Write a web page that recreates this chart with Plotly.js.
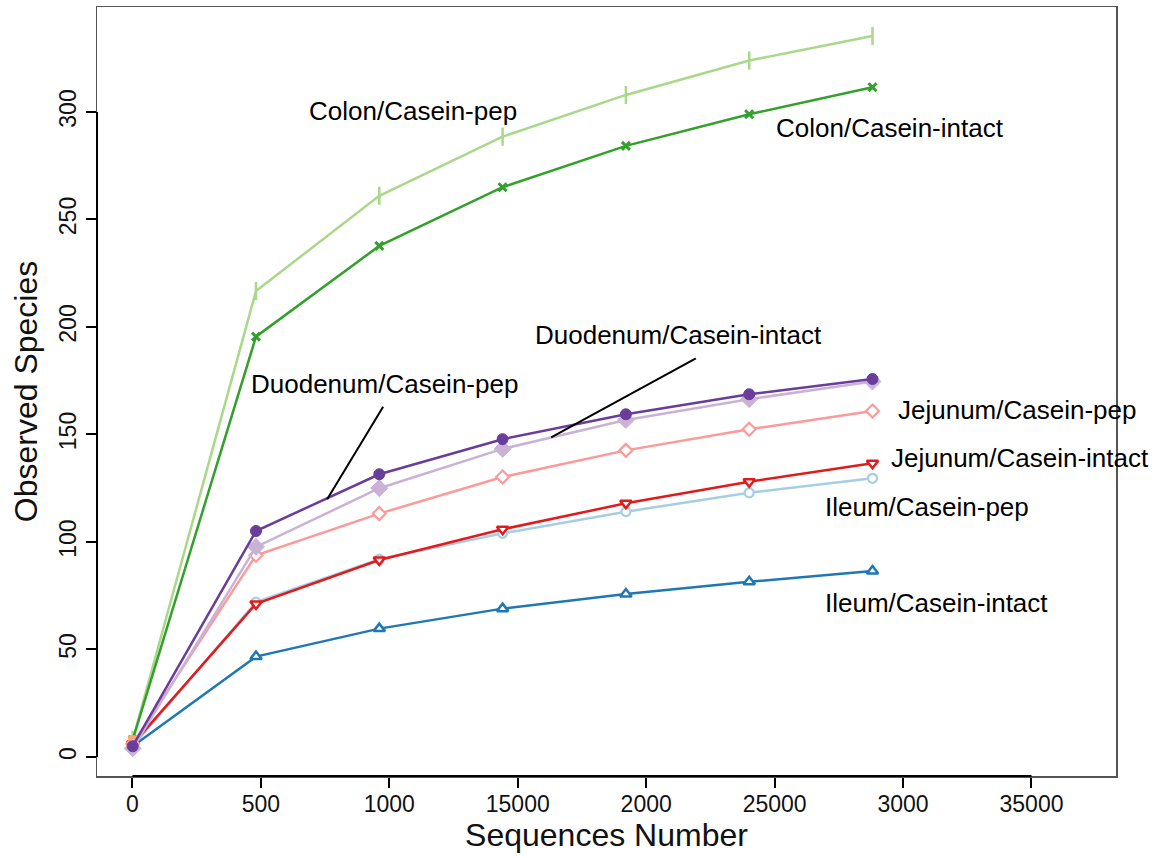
<!DOCTYPE html>
<html>
<head>
<meta charset="utf-8">
<script src="https://cdn.plot.ly/plotly-3.0.1.min.js"></script>
<style>html,body{margin:0;padding:0;background:#fff;}#chart{width:1162px;height:858px;}</style>
</head>
<body>
<div id="chart"></div>
<script>
// Sequencing depth (x) for each rarefaction step
const depth = [10, 4810, 9610, 14410, 19210, 24010, 28810];
// Observed species per group
const colonPep     = [8, 216.7, 261.0, 288.5, 307.9, 323.9, 335.3];
const colonIntact  = [8, 195.5, 237.7, 265.0, 284.2, 298.9, 311.5];
const duoIntact    = [5, 105.1, 131.5, 147.8, 159.4, 168.7, 175.8];
const duoPep       = [4, 97.7, 125.0, 143.3, 156.7, 166.4, 174.6];
const jejPep       = [6, 93.8, 113.2, 130.2, 142.6, 152.4, 160.9];
const jejIntact    = [6, 71.2, 91.6, 105.9, 118.0, 128.0, 136.6];
const ilePep       = [5, 72.0, 92.0, 104.0, 114.1, 122.9, 129.6];
const ileIntact    = [5, 46.7, 59.7, 69.0, 75.8, 81.5, 86.5];
const startDepth   = [10];
const startOther   = [8];

// Axis ticks
const xTickVals = [0, 5000, 10000, 15000, 20000, 25000, 30000, 35000];
const xTickText = ['0', '500', '1000', '15000', '2000', '25000', '3000', '35000'];
const yTickVals = [0, 50, 100, 150, 200, 250, 300];

// Label annotations: text, anchor x, anchor y
const labelText = ['Colon/Casein-pep', 'Colon/Casein-intact', 'Duodenum/Casein-intact', 'Duodenum/Casein-pep',
                   'Jejunum/Casein-pep', 'Jejunum/Casein-intact', 'Ileum/Casein-pep', 'Ileum/Casein-intact'];
const labelX = [6813, 24994, 15612, 4555, 29744, 29471, 26902, 26902];
const labelY = [300.5, 292.6, 196.3, 173.5, 161.4, 139.1, 116.3, 71.6];

const FONT = 'Liberation Sans, Arial, sans-serif';

function series(y, color, symbol, size, filled, lw) {
  return {
    x: depth, y: y, type: 'scatter', mode: 'lines+markers',
    line: {color: color, width: 2.5},
    marker: {
      symbol: symbol, size: size,
      color: filled ? color : '#ffffff',
      line: {color: color, width: lw}
    },
    showlegend: false, hoverinfo: 'skip'
  };
}

const traces = [
  series(colonPep, '#a9d88a', 'line-ns', 13, true, 2.5),
  series(colonIntact, '#33a02c', 'x-thin', 8, true, 3),
  {x: startDepth, y: startOther, type: 'scatter', mode: 'markers',
   marker: {symbol: 'square', size: 9, color: '#fdae4b'}, showlegend: false, hoverinfo: 'skip'},
  series(ileIntact, '#1f78b4', 'triangle-up', 10, false, 2.5),
  series(ilePep, '#a6cee3', 'circle', 9, false, 2.2),
  series(jejIntact, '#e31a1c', 'triangle-down', 10, false, 2.5),
  series(jejPep, '#fb9a99', 'diamond', 10, false, 2.2),
  series(duoPep, '#c9b2d6', 'diamond', 13, true, 1),
  series(duoIntact, '#6a3d9a', 'circle', 11, true, 1)
];

const annotations = labelText.map((t, i) => ({
  x: labelX[i], y: labelY[i], xref: 'x', yref: 'y', text: t, showarrow: false,
  xanchor: 'left', yanchor: 'middle', font: {family: FONT, size: 26, color: '#000'}
}));

const shapes = [
  // pointer lines for the Duodenum labels
  {type: 'line', xref: 'x', yref: 'y', x0: 9760, y0: 162.9, x1: 7580, y1: 119.9, line: {color: '#000', width: 2}},
  {type: 'line', xref: 'x', yref: 'y', x0: 21934, y0: 185.4, x1: 16300, y1: 148.7, line: {color: '#000', width: 2}},
  // R style axis lines spanning first to last tick
  {type: 'line', xref: 'x', yref: 'paper', x0: 0, x1: 35000, y0: 0, y1: 0, line: {color: '#000', width: 2}},
  {type: 'line', xref: 'paper', yref: 'y', x0: 0, x1: 0, y0: 0, y1: 300, line: {color: '#000', width: 2}}
];

const layout = {
  width: 1162, height: 858,
  margin: {l: 97, r: 46, t: 7, b: 82},
  paper_bgcolor: '#fff', plot_bgcolor: '#fff',
  font: {family: FONT, color: '#000'},
  xaxis: {
    range: [-1380, 38290], tickvals: xTickVals, ticktext: xTickText,
    ticks: 'outside', ticklen: 10, tickwidth: 2, tickcolor: '#000', ticklabelstandoff: -3,
    showgrid: false, zeroline: false, showline: true, mirror: true, linecolor: '#555', linewidth: 1.5,
    tickfont: {family: FONT, size: 23, color: '#111'},
    title: {text: 'Sequences Number', font: {family: FONT, size: 32, color: '#111'}, standoff: 6}
  },
  yaxis: {
    range: [-8.84, 348.8], tickvals: yTickVals,
    ticks: 'outside', ticklen: 10, tickwidth: 2, tickcolor: '#000', tickangle: -90,
    showgrid: false, zeroline: false, showline: true, mirror: true, linecolor: '#555', linewidth: 1.5,
    tickfont: {family: FONT, size: 23, color: '#111'},
    title: {text: 'Observed Species', font: {family: FONT, size: 32, color: '#111'}, standoff: 8}
  },
  annotations: annotations,
  shapes: shapes
};

Plotly.newPlot('chart', traces, layout, {staticPlot: true});
</script>
</body>
</html>
